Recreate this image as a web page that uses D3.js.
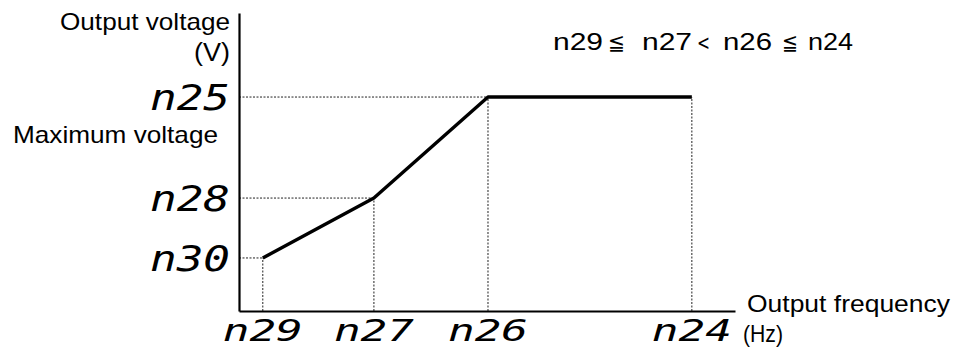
<!DOCTYPE html>
<html>
<head>
<meta charset="utf-8">
<script src="https://cdn.jsdelivr.net/npm/d3@7"></script>
<style>
  html, body { margin: 0; padding: 0; background: #fff; }
  svg { display: block; }
  .lbl { font-family: "Liberation Sans", Arial, sans-serif; fill: #000; }
  .sym { font-family: "DejaVu Sans", sans-serif; fill: #000; }
  .seg { font-family: "DejaVu Sans Mono", monospace; font-style: italic; fill: #000; }
</style>
</head>
<body>
<svg id="chart" width="954" height="349"></svg>
<script>
// ---- data ----
const freqLabels = ["n29", "n27", "n26", "n24"];
const freqValues = [4.8, 27.2, 50.2, 91.3];
const voltLabels = ["n30", "n28", "n25"];
const voltLevels = [17.8, 37.9, 71.8];
const curveVoltage = [17.8, 37.9, 71.8, 71.8];
const relationTokens = ["n29", "\u2266", "n27", "<", "n26", "\u2266", "n24"];

const svg = d3.select("#chart");
const x = d3.scaleLinear().domain([0, 100]).range([239, 735]);
const y = d3.scaleLinear().domain([0, 100]).range([311, 13]);

const pts = freqValues.map((f, i) => ({ f, v: curveVoltage[i] }));

// dotted guide lines
const g = svg.append("g").attr("stroke", "#222").attr("stroke-width", 1)
  .attr("stroke-dasharray", "2,1.5").attr("fill", "none");
voltLevels.forEach((v) => {
  const idx = curveVoltage.indexOf(v);
  g.append("line").attr("x1", x(0)).attr("x2", x(freqValues[idx]))
    .attr("y1", y(v)).attr("y2", y(v));
});
pts.forEach(p => {
  g.append("line").attr("x1", x(p.f)).attr("x2", x(p.f))
    .attr("y1", y(0)).attr("y2", y(p.v));
});

// axes
const xAxis = d3.axisBottom(x).tickValues([]).tickSize(0);
const yAxis = d3.axisLeft(y).tickValues([]).tickSize(0);
svg.append("g").attr("transform", `translate(0,${y(0)})`).call(xAxis)
  .select(".domain").attr("stroke", "#000").attr("stroke-width", 2.2);
svg.append("g").attr("transform", `translate(${x(0)},0)`).call(yAxis)
  .select(".domain").attr("stroke", "#000").attr("stroke-width", 2.2);

// curve
svg.append("path").datum(pts)
  .attr("d", d3.line().x(d => x(d.f)).y(d => y(d.v)))
  .attr("fill", "none").attr("stroke", "#000").attr("stroke-width", 3.4)
  .attr("stroke-linejoin", "round");

// seven-segment style labels
const segW = 80;
voltLabels.forEach((t, i) => {
  svg.append("text").attr("class", "seg")
    .attr("x", 230 - segW).attr("y", y(voltLevels[i]) + 13)
    .attr("font-size", 36)
    .attr("textLength", segW).attr("lengthAdjust", "spacingAndGlyphs")
    .text(t);
});
freqLabels.forEach((t, i) => {
  svg.append("text").attr("class", "seg")
    .attr("x", x(freqValues[i]) - segW / 2).attr("y", 341)
    .attr("font-size", 31)
    .attr("textLength", segW).attr("lengthAdjust", "spacingAndGlyphs")
    .text(t);
});

// text labels
function label(t, xs, ys, size, len, cls) {
  const el = svg.append("text").attr("class", cls || "lbl").attr("x", xs).attr("y", ys)
    .attr("font-size", size).text(t);
  if (len) el.attr("textLength", len).attr("lengthAdjust", "spacingAndGlyphs");
  return el;
}
label("Output voltage", 60, 30, 24, 170);
label("(V)", 194, 61, 25, 36);
label("Maximum voltage", 13, 143, 24, 205);
label("Output frequency", 747, 312, 24, 203);
label("(Hz)", 743, 342, 24, 40);

// relation text, token by token
const tokX = [553, 608, 642, 697, 723, 782, 808];
const tokW = [50, 17, 50, 13, 49, 16, 45];
relationTokens.forEach((t, i) => {
  const isSym = !/n/.test(t);
  label(t, tokX[i], 50, isSym ? 22 : 24, tokW[i], isSym ? "sym" : "lbl");
});
</script>
</body>
</html>
